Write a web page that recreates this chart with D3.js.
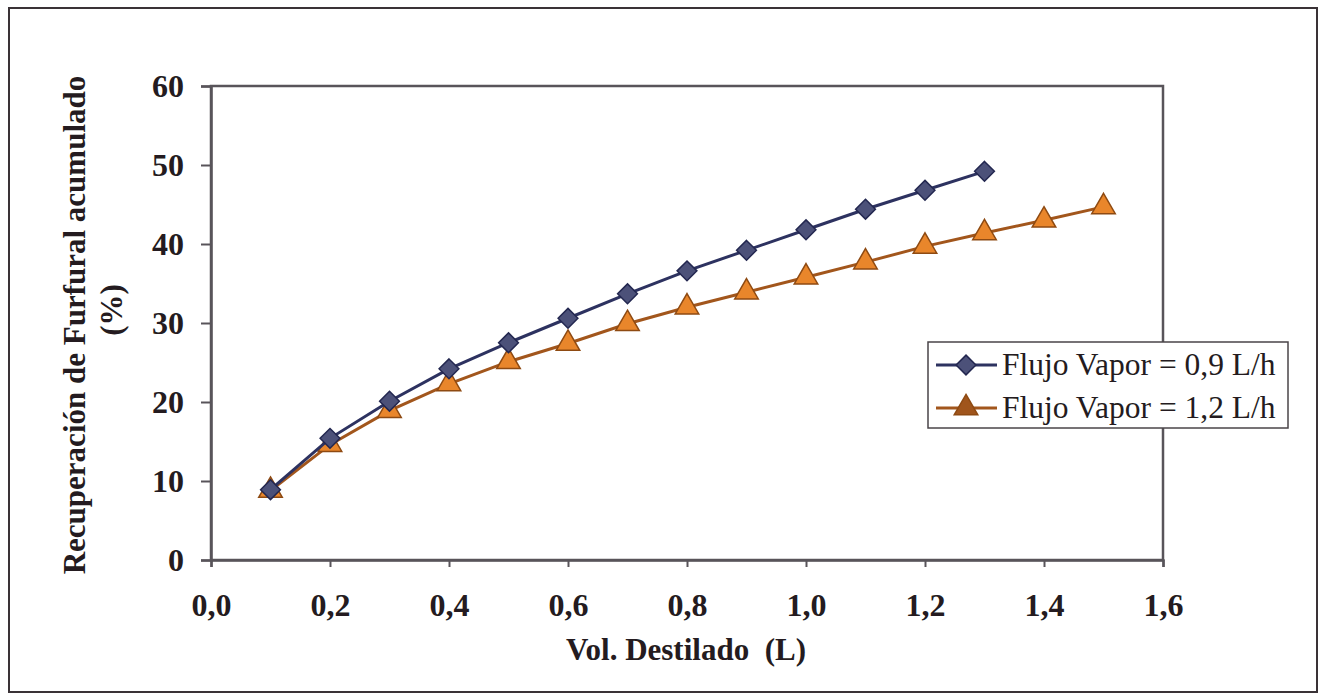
<!DOCTYPE html>
<html>
<head>
<meta charset="utf-8">
<script src="https://cdn.jsdelivr.net/npm/d3@7"></script>
<style>
  html, body { margin: 0; padding: 0; background: #ffffff; }
  svg { display: block; }
  text { font-family: "Liberation Serif", "Times New Roman", serif; fill: #241b20; }
</style>
</head>
<body>
<svg id="chart" width="1326" height="695"></svg>
<script>
// Volumen destilado (L)
const volSerie1 = [0.1, 0.2, 0.3, 0.4, 0.5, 0.6, 0.7, 0.8, 0.9, 1.0, 1.1, 1.2, 1.3];
const volSerie2 = [0.1, 0.2, 0.3, 0.4, 0.5, 0.6, 0.7, 0.8, 0.9, 1.0, 1.1, 1.2, 1.3, 1.4, 1.5];
// Recuperación de furfural acumulado (%)
const recFlujo09 = [8.9, 15.4, 20.1, 24.2, 27.5, 30.6, 33.7, 36.6, 39.2, 41.8, 44.4, 46.8, 49.2];
const recFlujo12 = [8.8, 14.6, 18.9, 22.3, 25.1, 27.4, 29.9, 32.0, 33.9, 35.8, 37.7, 39.7, 41.4, 43.0, 44.7];
const seriesNames = ["Flujo Vapor = 0,9 L/h", "Flujo Vapor = 1,2 L/h"];
const xTicks = [0, 0.2, 0.4, 0.6, 0.8, 1.0, 1.2, 1.4, 1.6];
const yTicks = [0, 10, 20, 30, 40, 50, 60];
const xTitle = "Vol. Destilado\u00a0\u00a0(L)";
const yTitle = ["Recuperación de Furfural acumulado", "(%)"];

const svg = d3.select("#chart");
const frameColor = "#58545a";

// Marco exterior del gráfico
svg.append("rect")
  .attr("x", 9).attr("y", 8).attr("width", 1308).attr("height", 684)
  .attr("fill", "none").attr("stroke", "#3a3236").attr("stroke-width", 2);

const x = d3.scaleLinear().domain([0, 1.6]).range([211, 1163]);
const y = d3.scaleLinear().domain([0, 60]).range([560, 86]);
const fmt = d => d3.format(".1f")(d).replace(".", ",");

// Área de trazado
svg.append("rect")
  .attr("x", x(0)).attr("y", y(60))
  .attr("width", x(1.6) - x(0)).attr("height", y(0) - y(60))
  .attr("fill", "none").attr("stroke", frameColor).attr("stroke-width", 2.5);

// Eje X
const xAxis = svg.append("g").attr("transform", `translate(0,${y(0)})`)
  .call(d3.axisBottom(x).tickValues(xTicks).tickFormat(fmt).tickSize(7).tickPadding(26));
xAxis.select(".domain").attr("stroke", frameColor).attr("stroke-width", 2.5);
xAxis.selectAll(".tick line").attr("stroke", frameColor).attr("stroke-width", 2);
xAxis.selectAll(".tick text")
  .attr("font-size", 32).attr("font-weight", "bold")
  .attr("font-family", "'Liberation Serif', serif").attr("fill", "#241b20");

// Eje Y
const yAxis = svg.append("g").attr("transform", `translate(${x(0)},0)`)
  .call(d3.axisLeft(y).tickValues(yTicks).tickFormat(d3.format("d")).tickSize(10).tickPadding(17));
yAxis.select(".domain").attr("stroke", frameColor).attr("stroke-width", 2.5);
yAxis.selectAll(".tick line").attr("stroke", frameColor).attr("stroke-width", 2);
yAxis.selectAll(".tick text")
  .attr("font-size", 32).attr("font-weight", "bold")
  .attr("font-family", "'Liberation Serif', serif").attr("fill", "#241b20");

// Títulos de ejes
svg.append("text")
  .attr("x", (x(0) + x(1.6)) / 2 - 1).attr("y", 660)
  .attr("text-anchor", "middle").attr("font-size", 31).attr("font-weight", "bold")
  .text(xTitle);

svg.append("text")
  .attr("transform", "translate(85,325) rotate(-90)")
  .attr("text-anchor", "middle").attr("font-size", 31).attr("font-weight", "bold")
  .text(yTitle[0]);
svg.append("text")
  .attr("transform", "translate(122,310) rotate(-90)")
  .attr("text-anchor", "middle").attr("font-size", 31).attr("font-weight", "bold")
  .text(yTitle[1]);

const line = d3.line().x(d => x(d[0])).y(d => y(d[1]));
const data1 = volSerie1.map((v, i) => [v, recFlujo09[i]]);
const data2 = volSerie2.map((v, i) => [v, recFlujo12[i]]);

const styles = [
  { data: data1, line: "#2d3260", fill: "#4c5179", stroke: "#232750", symbol: d3.symbolDiamond2, size: 250 },
  { data: data2, line: "#a2561c", fill: "#e9862b", stroke: "#8e4a12", symbol: d3.symbolTriangle, size: 240 }
];

// Serie de 1,2 L/h se dibuja primero para quedar debajo
[styles[1], styles[0]].forEach(s => {
  svg.append("path").datum(s.data)
    .attr("d", line).attr("fill", "none")
    .attr("stroke", s.line).attr("stroke-width", 3);
  svg.selectAll(null).data(s.data).enter().append("path")
    .attr("transform", d => `translate(${x(d[0])},${y(d[1])})`)
    .attr("d", d3.symbol().type(s.symbol).size(s.size))
    .attr("fill", s.fill).attr("stroke", s.stroke).attr("stroke-width", 1.5);
});

// Leyenda
const lg = svg.append("g");
lg.append("rect")
  .attr("x", 928).attr("y", 342).attr("width", 360).attr("height", 86)
  .attr("fill", "#ffffff").attr("stroke", "#4a4448").attr("stroke-width", 1.5);
styles.forEach((s, i) => {
  const cy = 365 + i * 43;
  lg.append("line").attr("x1", 936).attr("x2", 997).attr("y1", cy).attr("y2", cy)
    .attr("stroke", s.line).attr("stroke-width", 3);
  lg.append("path")
    .attr("transform", `translate(966,${cy})`)
    .attr("d", d3.symbol().type(s.symbol).size(s.size))
    .attr("fill", i === 0 ? s.fill : "#a0551c").attr("stroke", s.stroke).attr("stroke-width", 1.5);
  lg.append("text").attr("x", 1002).attr("y", cy + 10)
    .attr("font-size", 31.5).text(seriesNames[i]);
});
</script>
</body>
</html>
